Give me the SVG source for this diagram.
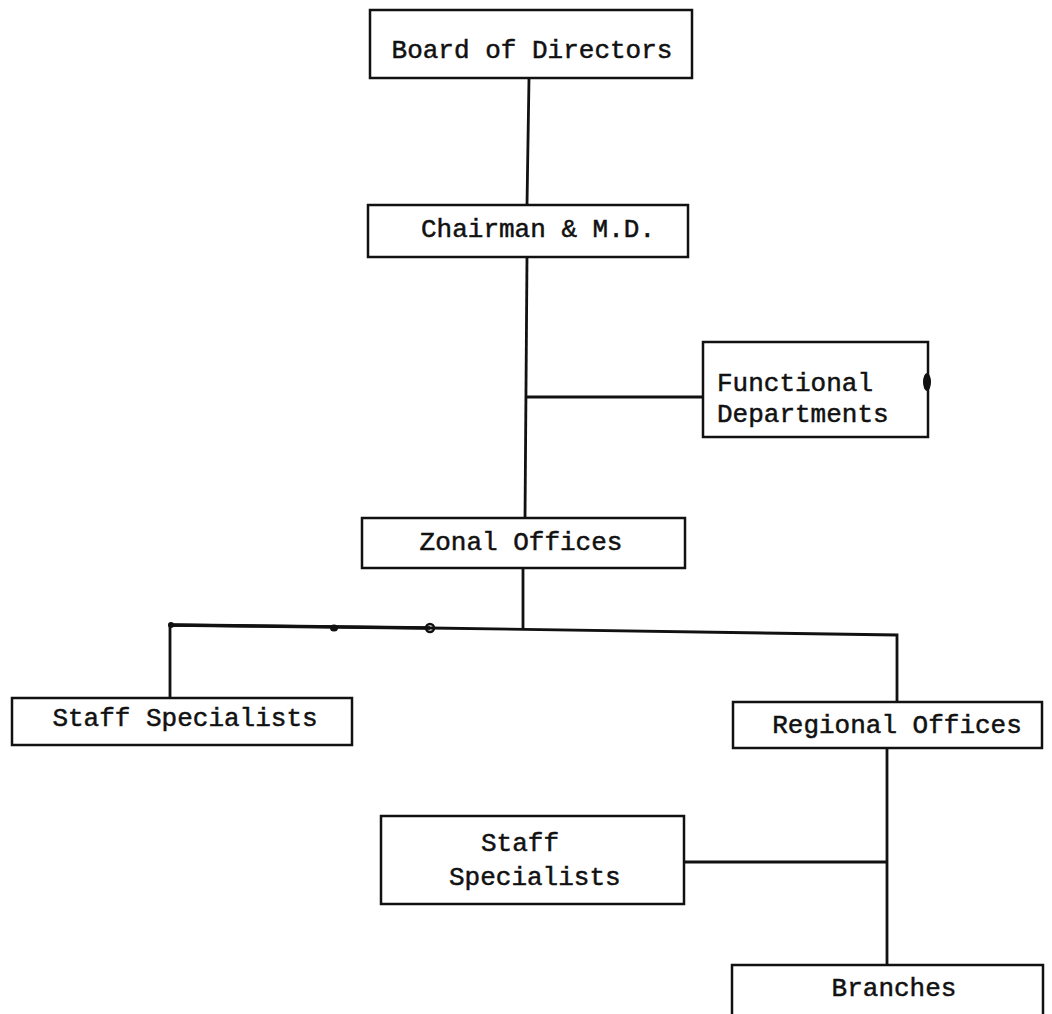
<svg xmlns="http://www.w3.org/2000/svg" width="1052" height="1014" viewBox="0 0 1052 1014">
<style>
.box{fill:#fff;stroke:#111;stroke-width:2.5}
.t{font-family:"Liberation Mono","Courier New",monospace;font-size:26px;fill:#111;stroke:#111;stroke-width:0.5}
.c{stroke:#111;stroke-width:2.8;fill:none}
</style>
<rect width="1052" height="1014" fill="#fff"/>
<g id="connectors">
<line class="c" x1="529" y1="78" x2="527" y2="205"/>
<line class="c" x1="527" y1="257" x2="525" y2="518"/>
<line class="c" x1="525" y1="397" x2="703" y2="397"/>
<line class="c" x1="523" y1="568" x2="523" y2="630"/>
<polyline class="c" points="170,698 170,625 430,628 897,635 897,702"/>
<line x1="170" y1="625" x2="430" y2="628" stroke="#111" stroke-width="3.5"/>
<circle cx="171" cy="625" r="3" fill="#111"/>
<ellipse cx="334" cy="628" rx="4" ry="3.5" fill="#111"/>
<circle cx="430" cy="628" r="4" fill="none" stroke="#111" stroke-width="2.5"/>
<line class="c" x1="887" y1="748" x2="887" y2="965"/>
<line class="c" x1="684" y1="862" x2="887" y2="862"/>
</g>
<g id="board">
<rect class="box" x="370" y="10" width="322" height="68"/>
<text class="t" x="532" y="58" text-anchor="middle">Board of Directors</text>
</g>
<g id="chairman">
<rect class="box" x="368" y="205" width="320" height="52"/>
<text class="t" x="538" y="237" text-anchor="middle">Chairman &amp; M.D.</text>
</g>
<g id="functional">
<rect class="box" x="703" y="342" width="225" height="95"/>
<ellipse cx="927" cy="382" rx="4" ry="9" fill="#111"/>
<text class="t" x="717" y="391">Functional</text>
<text class="t" x="717" y="422">Departments</text>
</g>
<g id="zonal">
<rect class="box" x="362" y="518" width="323" height="50"/>
<text class="t" x="521" y="550" text-anchor="middle">Zonal Offices</text>
</g>
<g id="staff1">
<rect class="box" x="12" y="698" width="340" height="47"/>
<text class="t" x="185" y="726" text-anchor="middle">Staff Specialists</text>
</g>
<g id="regional">
<rect class="box" x="733" y="702" width="309" height="46"/>
<text class="t" x="897" y="733" text-anchor="middle">Regional Offices</text>
</g>
<g id="staff2">
<rect class="box" x="381" y="816" width="303" height="88"/>
<text class="t" x="481" y="851">Staff</text>
<text class="t" x="449" y="885">Specialists</text>
</g>
<g id="branches">
<rect class="box" x="732" y="965" width="311" height="70"/>
<text class="t" x="894" y="996" text-anchor="middle">Branches</text>
</g>
</svg>
